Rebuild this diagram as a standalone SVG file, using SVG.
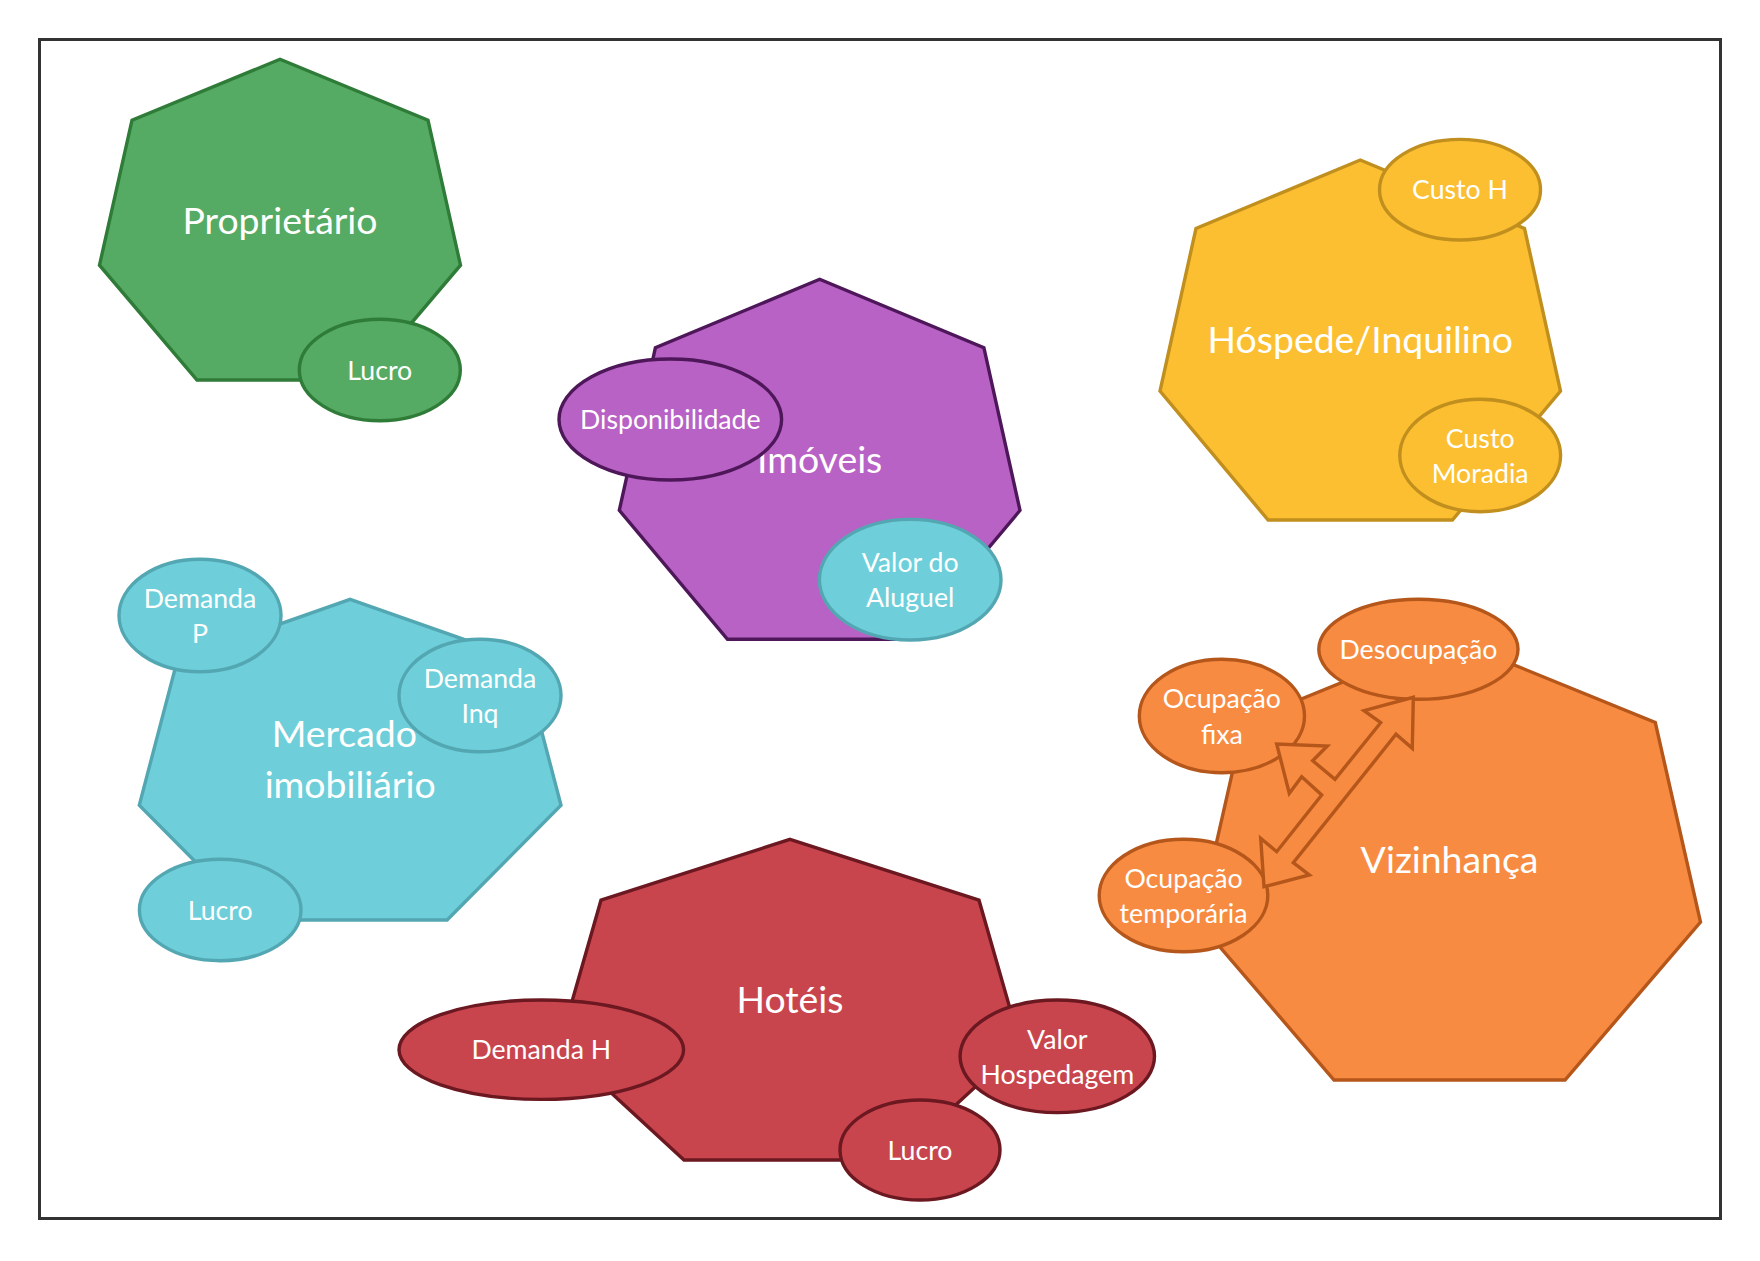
<svg xmlns="http://www.w3.org/2000/svg" width="1760" height="1261" viewBox="0 0 1760 1261">
<style>
text{font-family:Lato,"Liberation Sans",sans-serif;fill:#ffffff;text-anchor:middle}
.big{font-size:37.4px}
.sm{font-size:26.7px}
.s{stroke-width:3.4;stroke-linejoin:miter}
.g{fill:#55AB63;stroke:#2F7B38}
.p{fill:#B862C6;stroke:#4E1759}
.y{fill:#FCBF32;stroke:#C08F1E}
.c{fill:#6ECFDA;stroke:#53A7B2}
.r{fill:#C9454E;stroke:#6B1820}
.o{fill:#F88B42;stroke:#B5561B}
</style>
<rect x="39.5" y="39.5" width="1681" height="1179" fill="#ffffff" stroke="#333333" stroke-width="3"/>

<g id="proprietario">
<polygon class="s g" points="280,59.3 428,120.2 460.5,265.2 363,380 197,380 99.5,265.2 132,120.2"/>
<text class="big" x="280" y="233.5">Proprietário</text>
<ellipse class="s g" cx="379.8" cy="370" rx="80.5" ry="50.7"/>
<text class="sm" x="379.8" y="379.5">Lucro</text>
</g>

<g id="imoveis">
<polygon class="s p" points="819.65,279.3 983.9,347.7 1020,510.4 911.8,639.3 727.5,639.3 619.3,510.4 655.4,347.7"/>
<text class="big" x="819.65" y="473">Imóveis</text>
<ellipse class="s p" cx="670.3" cy="419.5" rx="111.3" ry="60.5"/>
<text class="sm" x="670.3" y="429">Disponibilidade</text>
<ellipse class="s c" cx="910.2" cy="579.7" rx="90.8" ry="60.3"/>
<text class="sm" x="910.2" y="571.7">Valor do</text>
<text class="sm" x="910.2" y="607.3">Aluguel</text>
</g>

<g id="hospede">
<polygon class="s y" points="1360.25,160 1524.5,228.4 1560.5,391.1 1452.4,520 1268.1,520 1160,391.1 1196,228.4"/>
<text class="big" x="1360.25" y="352.8">Hóspede/Inquilino</text>
<ellipse class="s y" cx="1460" cy="189.7" rx="80.5" ry="50.3"/>
<text class="sm" x="1460" y="199">Custo H</text>
<ellipse class="s y" cx="1480.2" cy="455.5" rx="80.4" ry="56.2"/>
<text class="sm" x="1480.2" y="447.5">Custo</text>
<text class="sm" x="1480.2" y="483">Moradia</text>
</g>

<g id="mercado">
<polygon class="s c" points="350.15,599.3 523,660.2 561,805.2 447.1,920 253.2,920 139.3,805.2 177.3,660.2"/>
<text class="big" x="344.3" y="746.8">Mercado</text>
<text class="big" x="350.15" y="798.3">imobiliário</text>
<ellipse class="s c" cx="200" cy="615.5" rx="81" ry="56.2"/>
<text class="sm" x="200" y="607.7">Demanda</text>
<text class="sm" x="200" y="643.3">P</text>
<ellipse class="s c" cx="480" cy="695.5" rx="81" ry="56.2"/>
<text class="sm" x="480" y="687.7">Demanda</text>
<text class="sm" x="480" y="723.3">Inq</text>
<ellipse class="s c" cx="220.2" cy="910" rx="80.8" ry="50.7"/>
<text class="sm" x="220.2" y="919.5">Lucro</text>
</g>

<g id="hoteis">
<polygon class="s r" points="790,839.3 979,900.2 1020.5,1045.2 896,1160 684,1160 559.5,1045.2 601,900.2"/>
<text class="big" x="790" y="1013">Hotéis</text>
<ellipse class="s r" cx="541.3" cy="1049.7" rx="142.3" ry="49.7"/>
<text class="sm" x="541.3" y="1059">Demanda H</text>
<ellipse class="s r" cx="1057.3" cy="1056.3" rx="97.2" ry="56.3"/>
<text class="sm" x="1057.3" y="1048.5">Valor</text>
<text class="sm" x="1057.3" y="1084">Hospedagem</text>
<ellipse class="s r" cx="920" cy="1150" rx="80" ry="50"/>
<text class="sm" x="920" y="1159.5">Lucro</text>
</g>

<g id="vizinhanca">
<polygon class="s o" points="1449.5,638.6 1655.3,722.5 1700.5,922 1565,1080 1334,1080 1198.5,922 1243.7,722.5"/>
<text class="big" x="1449.5" y="873">Vizinhança</text>
<ellipse class="s o" cx="1418.4" cy="649.3" rx="99.6" ry="50"/>
<text class="sm" x="1418.4" y="658.5">Desocupação</text>
<ellipse class="s o" cx="1221.9" cy="716" rx="82.6" ry="56.7"/>
<text class="sm" x="1221.9" y="708.2">Ocupação</text>
<text class="sm" x="1221.9" y="743.8">fixa</text>
<ellipse class="s o" cx="1183.5" cy="895.5" rx="84.3" ry="56.2"/>
<text class="sm" x="1183.5" y="887.7">Ocupação</text>
<text class="sm" x="1183.5" y="923.3">temporária</text>
</g>

<g id="connectors">
<polygon class="s o" points="1413.3,697.3 1412.3,748.3 1396,734.3 1293.3,862.7 1309.3,875 1264,886.7 1260.7,838.3 1276.7,851.7 1321.7,795 1301.7,776.7 1289.3,793.3 1276.7,744 1327.3,746 1312.7,760.7 1335,779.3 1380.7,722.7 1364,710.7"/>
</g>
</svg>
